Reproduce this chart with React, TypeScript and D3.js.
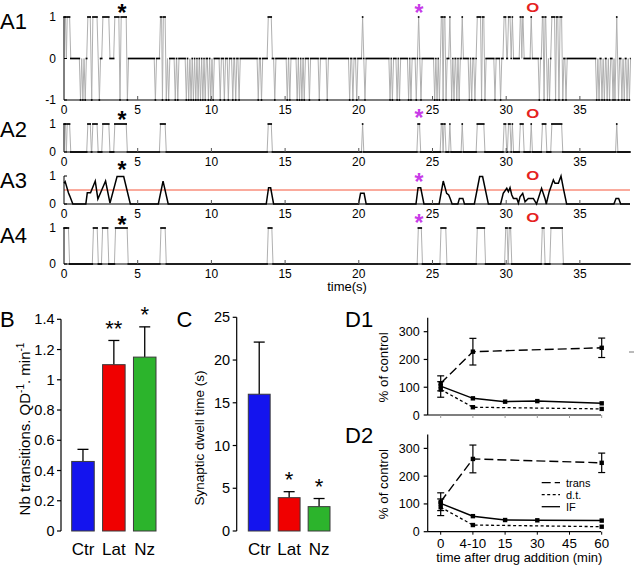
import React from 'react';
import * as d3 from 'd3';

const FONT = "'Liberation Sans', Arial, Helvetica, sans-serif";
const DT = 0.08;
const T_END = 38.4;

// ---- A traces (time in s) ----
const a1Up: [number, number][] = [
  [0, 0.1], [0.22, 0.38], [1.62, 1.78], [1.96, 2.24], [2.64, 3.04], [3.45, 3.72], [3.88, 4.22],
  [6.55, 6.62], [6.74, 6.86], [13.86, 14.06], [20.26, 20.26], [24.06, 24.06], [25.6, 25.66],
  [25.78, 25.84], [26.18, 26.18], [27.02, 27.02], [28.04, 28.26], [28.4, 28.48], [29.86, 29.96],
  [30.16, 30.26], [30.42, 30.42], [30.96, 31.0], [31.12, 31.14], [31.7, 31.7], [32.46, 32.5],
  [32.64, 32.68], [33.1, 33.28], [33.42, 33.5], [33.66, 33.76], [37.5, 37.5],
];
const a1Down: [number, number][] = [
  [1.12, 1.12], [1.28, 1.28], [1.44, 1.44], [1.88, 1.88], [2.4, 2.4], [3.8, 3.8], [4.3, 4.3],
  [6.2, 6.2], [6.68, 6.68], [6.94, 6.94], [7.1, 7.1], [7.55, 7.55], [7.72, 7.72], [8.3, 8.3],
  [8.46, 8.46], [8.62, 8.62], [8.78, 8.78], [8.94, 8.94], [9.1, 9.1], [9.26, 9.26], [9.42, 9.42],
  [9.58, 9.58], [9.8, 9.8], [9.96, 9.96], [10.12, 10.12], [10.6, 10.6], [10.88, 10.88],
  [11.15, 11.15], [11.45, 11.45], [11.65, 11.65], [11.88, 11.88], [13.18, 13.18], [13.4, 13.4],
  [14.3, 14.3], [15.15, 15.15], [15.32, 15.32], [15.82, 15.82], [15.98, 15.98], [16.14, 16.14],
  [16.3, 16.3], [16.65, 16.65], [17.32, 17.32], [17.86, 17.86], [19.38, 19.38], [19.6, 19.6],
  [19.86, 19.86], [20.42, 20.42], [22.12, 22.12], [22.28, 22.28], [22.6, 22.6], [22.76, 22.76],
  [23.38, 23.38], [23.54, 23.54], [23.9, 23.9], [24.22, 24.22], [25.15, 25.15], [25.31, 25.31],
  [25.47, 25.47], [25.72, 25.72], [25.92, 25.92], [26.3, 26.3], [26.46, 26.46], [26.65, 26.65],
  [26.81, 26.81], [27.5, 27.5], [27.66, 27.66], [27.88, 27.88], [28.33, 28.33], [28.56, 28.56],
  [29.24, 29.24], [29.62, 29.62], [32.25, 32.25], [32.57, 32.57], [32.8, 32.8], [32.94, 32.94],
  [33.35, 33.35], [33.58, 33.58], [33.84, 33.84], [34.06, 34.06], [36.14, 36.14], [36.3, 36.3],
  [36.5, 36.5], [36.66, 36.66], [36.85, 36.85], [37.01, 37.01], [37.25, 37.25], [37.38, 37.38],
  [37.62, 37.62], [37.85, 37.85], [38.01, 38.01], [38.2, 38.2], [38.36, 38.36],
];
const a2Up: [number, number][] = [
  [0, 0.1], [0.22, 0.38], [1.62, 1.78], [1.96, 2.24], [2.64, 3.04], [3.45, 4.22], [6.55, 6.86],
  [13.86, 14.06], [20.26, 20.26], [24.02, 24.12], [25.6, 25.66], [25.78, 25.84], [26.18, 26.18],
  [27.02, 27.02], [28.04, 28.48], [29.86, 29.96], [30.16, 30.26], [30.42, 30.42], [30.96, 31.14],
  [31.7, 31.7], [32.46, 32.68], [33.1, 33.76], [37.5, 37.5],
];
const a3Points: [number, number][] = [
  [0, 0.74], [0.08, 0.8], [0.3, 0.4], [0.38, 0.3], [0.6, 0], [1.48, 0], [1.58, 0.4], [1.8, 0.4],
  [2.12, 0.82], [2.3, 0.18], [2.82, 0.82], [3.12, 0.03], [3.6, 0.98], [4.05, 0.98], [4.5, 0],
  [6.4, 0], [6.72, 0.82], [7.07, 0], [13.72, 0], [13.88, 0.58], [14.02, 0.58], [14.22, 0],
  [19.98, 0], [20.12, 0.38], [20.36, 0.38], [20.5, 0], [23.88, 0], [24.02, 0.58], [24.2, 0.58],
  [24.42, 0], [25.45, 0], [25.73, 0.82], [25.96, 0.38], [26.1, 0.32], [26.2, 0.2], [26.33, 0],
  [26.72, 0], [26.83, 0.2], [27.06, 0.2], [27.17, 0], [27.84, 0], [28.2, 0.98], [28.4, 0.98],
  [28.79, 0], [29.62, 0], [29.8, 0.38], [30.04, 0.56], [30.15, 0.44], [30.26, 0.58], [30.38, 0.32],
  [30.49, 0.2], [30.72, 0.2], [30.83, 0.03], [30.94, 0.26], [31.12, 0.38], [31.28, 0.08],
  [31.5, 0.2], [31.84, 0.2], [32.06, 0], [32.4, 0.56], [32.63, 0.2], [32.72, 0], [32.92, 0.44],
  [33.2, 0.86], [33.31, 0.74], [33.54, 0.74], [33.72, 1.0], [33.88, 0.56], [34.1, 0], [37.31, 0],
  [37.45, 0.2], [37.63, 0.2], [37.77, 0], [38.4, 0],
];
const a3Threshold = 0.5;
const a4Up: [number, number][] = [
  [0, 0.3], [2.0, 2.25], [2.62, 2.96], [3.5, 4.28], [6.58, 6.86], [13.86, 14.1], [24.04, 24.24],
  [25.58, 25.9], [28.04, 28.52], [29.97, 30.06], [30.21, 30.3], [32.45, 32.56], [33.04, 33.8],
];
const timeTicks = [0, 5, 10, 15, 20, 25, 30, 35];
const markerTimes = [3.93, 24.08, 31.8];
const markerSymbols = ['*', '*', 'O'];
const markerColors = ['#000000', '#c83ce8', '#e5231e'];

// ---- B / C ----
const barCats = ['Ctr', 'Lat', 'Nz'];
const barColors = ['#1414ee', '#f00000', '#2cb42c'];
const transRate = [0.46, 1.1, 1.15];
const transRateErr = [0.08, 0.16, 0.2];
const transSig = ['', '**', '*'];
const transTicks = [0, 0.2, 0.4, 0.6, 0.8, 1, 1.2, 1.4];
const dwellTime = [16.0, 3.9, 2.85];
const dwellErr = [6.1, 0.7, 0.95];
const dwellSig = ['', '*', '*'];
const dwellTicks = [0, 5, 10, 15, 20, 25];

// ---- D ----
const dCats = ['0', '4-10', '15', '30', '45', '60'];
const dTicks = [0, 100, 200, 300];
const transX = ['0', '4-10', '60'];
const dtX = ['0', '4-10', '60'];
const ifX = ['0', '4-10', '15', '30', '60'];
const d1Trans = [114, 228, 242];
const d1TransErr = [27, 48, 35];
const d1Dt = [92, 28, 22];
const d1DtErr = [28, 0, 0];
const d1If = [104, 60, 48, 50, 42];
const d2Trans = [108, 262, 248];
const d2TransErr = [32, 50, 35];
const d2Dt = [88, 24, 18];
const d2DtErr = [30, 0, 0];
const d2If = [102, 56, 42, 41, 40];
const legendNames = ['trans', 'd.t.', 'IF'];
const legendDash = ['9,4', '3,2.5', ''];

type Ep = { s: number; e: number; v: number };

function tracePoints(eps: Ep[]): [number, number][] {
  const sorted = [...eps].sort((a, b) => a.s - b.s);
  const pts: [number, number][] = [];
  let lastE: number | null = null;
  for (const ep of sorted) {
    if (lastE === null) {
      if (ep.s <= 0.001) pts.push([0, ep.v]);
      else { pts.push([0, 0]); pts.push([ep.s - DT, 0]); pts.push([ep.s, ep.v]); }
    } else {
      const gap = ep.s - lastE;
      if (gap < 1.5 * DT) pts.push([ep.s, ep.v]);
      else if (gap < 2 * DT) { pts.push([(lastE + ep.s) / 2, 0]); pts.push([ep.s, ep.v]); }
      else { pts.push([lastE + DT, 0]); pts.push([ep.s - DT, 0]); pts.push([ep.s, ep.v]); }
    }
    pts.push([ep.e, ep.v]);
    lastE = ep.e;
  }
  if (lastE !== null) { pts.push([lastE + DT, 0]); }
  pts.push([T_END, 0]);
  return pts;
}

const xA = d3.scaleLinear().domain([0, T_END]).range([64, 630]);

function StepTrace({ pts, y }: { pts: [number, number][]; y: d3.ScaleLinear<number, number> }) {
  const gray: JSX.Element[] = [];
  const black: JSX.Element[] = [];
  for (let i = 0; i < pts.length - 1; i++) {
    const a = pts[i], b = pts[i + 1];
    if (a[1] === b[1]) {
      black.push(<line key={i} x1={xA(a[0]) - 0.8} x2={xA(b[0]) + 0.8} y1={y(a[1])} y2={y(b[1])} stroke="#000" strokeWidth={1.7} />);
    } else {
      gray.push(<line key={i} x1={xA(a[0])} x2={xA(b[0])} y1={y(a[1])} y2={y(b[1])} stroke="#b0b0b0" strokeWidth={1} />);
    }
  }
  return <g>{gray}{black}</g>;
}

function AAxes({ y, ticks, tickLabels }: { y: d3.ScaleLinear<number, number>; ticks: number[]; tickLabels: string[] }) {
  const [d0, d1] = y.domain();
  const yb = y(d0), yt = y(d1);
  return (
    <g>
      <line x1={64} x2={64} y1={yt} y2={yb} stroke="#000" strokeWidth={1} />
      <line x1={64} x2={630} y1={yb} y2={yb} stroke="#000" strokeWidth={1.2} />
      {ticks.map((t, i) => (
        <g key={'y' + i}>
          <line x1={64} x2={67} y1={y(t)} y2={y(t)} stroke="#000" strokeWidth={1} />
          <text x={56} y={y(t) + 4} textAnchor="end" fontSize={12} fontFamily={FONT}>{tickLabels[i]}</text>
        </g>
      ))}
      {timeTicks.map((t, i) => (
        <g key={'x' + i}>
          {t > 0 && <line x1={xA(t)} x2={xA(t)} y1={yb} y2={yb - 4} stroke="#555" strokeWidth={1} />}
          <text x={xA(t)} y={yb + 13.5} textAnchor="middle" fontSize={12} fontFamily={FONT}>{t}</text>
        </g>
      ))}
    </g>
  );
}

function Markers({ ys }: { ys: number[] }) {
  return (
    <g>
      {markerTimes.map((t, i) => {
        const isO = markerSymbols[i] === 'O';
        if (isO) {
          return (
            <text key={i} x={xA(t) - 6.5} y={ys[i] + 5} textLength={13} lengthAdjust="spacingAndGlyphs"
              fontSize={13.5} fontWeight="bold" fill={markerColors[i]} fontFamily={FONT}>O</text>
          );
        }
        const fs = 23;
        return (
          <text key={i} x={xA(t)} y={ys[i] + 0.57 * fs} textAnchor="middle" fontSize={fs} fontWeight="bold"
            fill={markerColors[i]} fontFamily={FONT}>*</text>
        );
      })}
    </g>
  );
}

function BarPanel({ values, errs, sig, ticks, yRange, domainMax, xRange, axisX, tickFmt }: any) {
  const y = d3.scaleLinear().domain([0, domainMax]).range(yRange);
  const x = d3.scaleBand<string>().domain(barCats).range(xRange).paddingInner(0.27).paddingOuter(0);
  const bw = x.bandwidth();
  return (
    <g>
      <line x1={axisX} x2={axisX} y1={y(domainMax)} y2={y(0)} stroke="#000" strokeWidth={1.2} />
      {ticks.map((t: number, i: number) => (
        <g key={i}>
          <line x1={axisX - 4} x2={axisX} y1={y(t)} y2={y(t)} stroke="#000" strokeWidth={1.2} />
          <text x={axisX - 6.5} y={y(t) + 5} textAnchor="end" fontSize={14.5} fontFamily={FONT}>{tickFmt(t)}</text>
        </g>
      ))}
      {barCats.map((c, i) => {
        const x0 = x(c)!;
        const cx = x0 + bw / 2;
        const top = y(values[i]);
        const et = y(values[i] + errs[i]);
        return (
          <g key={c}>
            <line x1={cx} x2={cx} y1={top} y2={et} stroke="#000" strokeWidth={1.3} />
            <line x1={cx - 5.5} x2={cx + 5.5} y1={et} y2={et} stroke="#000" strokeWidth={1.3} />
            <rect x={x0} y={top} width={bw} height={y(0) - top} fill={barColors[i]} stroke="#3a3a3a" strokeWidth={1} />
            {sig[i] && (
              <text x={cx} y={et - 6 + 0.57 * 22 - 11} textAnchor="middle" fontSize={22} fontFamily={FONT}>{sig[i]}</text>
            )}
            <text x={cx} y={555} textAnchor="middle" fontSize={17} fontFamily={FONT}>{c}</text>
          </g>
        );
      })}
    </g>
  );
}

function DPanel({ yRange, trans, transErr, dt, dtErr, iff, showX, legend }: any) {
  const x = d3.scalePoint<string>().domain(dCats).range([440.7, 601.7]);
  const y = d3.scaleLinear().domain([0, 350]).range(yRange);
  const line = d3.line<[string, number]>().x(d => x(d[0])!).y(d => y(d[1]));
  const tData: [string, number][] = transX.map((c, i) => [c, trans[i]]);
  const dData: [string, number][] = dtX.map((c, i) => [c, dt[i]]);
  const iData: [string, number][] = ifX.map((c, i) => [c, iff[i]]);
  const errBar = (c: string, v: number, e: number, k: string) => e > 0 ? (
    <g key={k}>
      <line x1={x(c)!} x2={x(c)!} y1={y(v - e)} y2={y(v + e)} stroke="#000" strokeWidth={1.2} />
      <line x1={x(c)! - 3.5} x2={x(c)! + 3.5} y1={y(v - e)} y2={y(v - e)} stroke="#000" strokeWidth={1.2} />
      <line x1={x(c)! - 3.5} x2={x(c)! + 3.5} y1={y(v + e)} y2={y(v + e)} stroke="#000" strokeWidth={1.2} />
    </g>
  ) : null;
  const sq = (d: [string, number], k: string) => (
    <rect key={k} x={x(d[0])! - 2.2} y={y(d[1]) - 2.2} width={4.4} height={4.4} fill="#000" />
  );
  const ax = 427.7;
  return (
    <g>
      <line x1={ax} x2={ax} y1={y(350)} y2={y(0)} stroke="#000" strokeWidth={1.2} />
      <line x1={ax} x2={601} y1={y(0)} y2={y(0)} stroke="#000" strokeWidth={1.2} />
      {dTicks.map((t, i) => (
        <g key={i}>
          <line x1={ax - 4} x2={ax} y1={y(t)} y2={y(t)} stroke="#000" strokeWidth={1.2} />
          <text x={ax - 8} y={y(t) + 4.5} textAnchor="end" fontSize={12.5} fontFamily={FONT}>{t}</text>
        </g>
      ))}
      {dCats.map((c, i) => (
        <g key={'x' + i}>
          <line x1={x(c)!} x2={x(c)!} y1={y(0)} y2={y(0) + 3} stroke={showX ? '#000' : '#999'} strokeWidth={1} />
          {showX && <text x={x(c)!} y={y(0) + 16} textAnchor="middle" fontSize={13.3} fontFamily={FONT}>{c}</text>}
        </g>
      ))}
      <path d={line(tData)!} fill="none" stroke="#000" strokeWidth={1.4} strokeDasharray="9,4" />
      <path d={line(dData)!} fill="none" stroke="#000" strokeWidth={1.3} strokeDasharray="3,2.5" />
      <path d={line(iData)!} fill="none" stroke="#000" strokeWidth={1.5} />
      {transX.map((c, i) => errBar(c, trans[i], transErr[i], 'te' + i))}
      {dtX.map((c, i) => errBar(c, dt[i], dtErr[i], 'de' + i))}
      {tData.map((d, i) => sq(d, 't' + i))}
      {dData.map((d, i) => sq(d, 'd' + i))}
      {iData.map((d, i) => sq(d, 'i' + i))}
      <text transform={`translate(388,${(y(0) + y(350)) / 2 + 1}) rotate(-90)`} textAnchor="middle" fontSize={13.3} fontFamily={FONT}>% of control</text>
      {legend && legendNames.map((n, i) => (
        <g key={n}>
          <line x1={541.7} x2={560} y1={482.7 + i * 12} y2={482.7 + i * 12} stroke="#000" strokeWidth={1.3} strokeDasharray={legendDash[i] || undefined} />
          <text x={566} y={486.5 + i * 12} fontSize={11} fontFamily={FONT}>{n}</text>
        </g>
      ))}
    </g>
  );
}

export default function App() {
  const yA1 = d3.scaleLinear().domain([-1, 1]).range([100, 17]);
  const yA2 = d3.scaleLinear().domain([0, 1]).range([152, 124]);
  const yA3 = d3.scaleLinear().domain([0, 1]).range([204, 176]);
  const yA4 = d3.scaleLinear().domain([0, 1]).range([264, 228]);

  const a1Eps: Ep[] = [
    ...a1Up.map(([s, e]) => ({ s, e, v: 1 })),
    ...a1Down.map(([s, e]) => ({ s, e, v: -1 })),
  ];
  const a2Eps: Ep[] = a2Up.map(([s, e]) => ({ s, e, v: 1 }));
  const a4Eps: Ep[] = a4Up.map(([s, e]) => ({ s, e, v: 1 }));
  const a3Line = d3.line<[number, number]>().x(d => xA(d[0])).y(d => yA3(d[1]));

  return (
    <svg width={640} height={567} style={{ position: 'absolute', left: 0, top: 0, background: '#fff' }}
      fontFamily={FONT}>
      <rect x={0} y={0} width={640} height={567} fill="#fff" />
      {/* A labels */}
      <text x={0} y={28.5} fontSize={22} fontFamily={FONT}>A1</text>
      <text x={0} y={136.5} fontSize={22} fontFamily={FONT}>A2</text>
      <text x={0} y={188.3} fontSize={22} fontFamily={FONT}>A3</text>
      <text x={0} y={243.3} fontSize={22} fontFamily={FONT}>A4</text>

      <StepTrace pts={tracePoints(a1Eps)} y={yA1} />
      <AAxes y={yA1} ticks={[1, 0, -1]} tickLabels={['1', '0', '-1']} />
      <Markers ys={[7.5, 7.5, 6.5]} />

      <StepTrace pts={tracePoints(a2Eps)} y={yA2} />
      <AAxes y={yA2} ticks={[1, 0]} tickLabels={['1', '0']} />
      <Markers ys={[115, 113, 113]} />

      <line x1={64} x2={630} y1={yA3(a3Threshold)} y2={yA3(a3Threshold)} stroke="#f5563a" strokeWidth={1} />
      <path d={a3Line(a3Points)!} fill="none" stroke="#000" strokeWidth={1.5} />
      <AAxes y={yA3} ticks={[1, 0]} tickLabels={['1', '0']} />
      <Markers ys={[165, 177, 175]} />

      <StepTrace pts={tracePoints(a4Eps)} y={yA4} />
      <AAxes y={yA4} ticks={[1, 0]} tickLabels={['1', '0']} />
      <Markers ys={[220, 218, 217]} />
      <text x={347} y={291} textAnchor="middle" fontSize={13} fontFamily={FONT}>time(s)</text>

      {/* B */}
      <text x={0} y={326.5} fontSize={22} fontFamily={FONT}>B</text>
      <BarPanel values={transRate} errs={transRateErr} sig={transSig} ticks={transTicks}
        yRange={[531, 319.3]} domainMax={1.4} xRange={[71.7, 156]} axisX={61}
        tickFmt={(t: number) => String(+t.toFixed(1))} />
      <text transform="translate(30,429) rotate(-90)" textAnchor="middle" fontSize={15} fontFamily={FONT}>
        Nb transitions. QD<tspan fontSize={10} dy={-6}>-1</tspan><tspan dy={6}>. min</tspan><tspan fontSize={10} dy={-6}>-1</tspan>
      </text>

      {/* C */}
      <text x={176.5} y={326.5} fontSize={22} fontFamily={FONT}>C</text>
      <BarPanel values={dwellTime} errs={dwellErr} sig={dwellSig} ticks={dwellTicks}
        yRange={[531, 317.3]} domainMax={25} xRange={[248.3, 330]} axisX={236.7}
        tickFmt={(t: number) => String(t)} />
      <text transform="translate(204,438) rotate(-90)" textAnchor="middle" fontSize={13.5} fontFamily={FONT}>
        Synaptic dwell time (s)
      </text>

      {/* D */}
      <text x={345} y={326.7} fontSize={22} fontFamily={FONT}>D1</text>
      <DPanel yRange={[415, 317.8]} trans={d1Trans} transErr={d1TransErr} dt={d1Dt} dtErr={d1DtErr} iff={d1If} showX={false} legend={false} />
      <line x1={629} x2={634} y1={352} y2={352} stroke="#777" strokeWidth={1} />
      <text x={345} y={443} fontSize={22} fontFamily={FONT}>D2</text>
      <DPanel yRange={[531.7, 434.5]} trans={d2Trans} transErr={d2TransErr} dt={d2Dt} dtErr={d2DtErr} iff={d2If} showX={true} legend={true} />
      <text x={519.3} y={562} textAnchor="middle" fontSize={13} fontFamily={FONT}>time after drug addition (min)</text>
    </svg>
  );
}
